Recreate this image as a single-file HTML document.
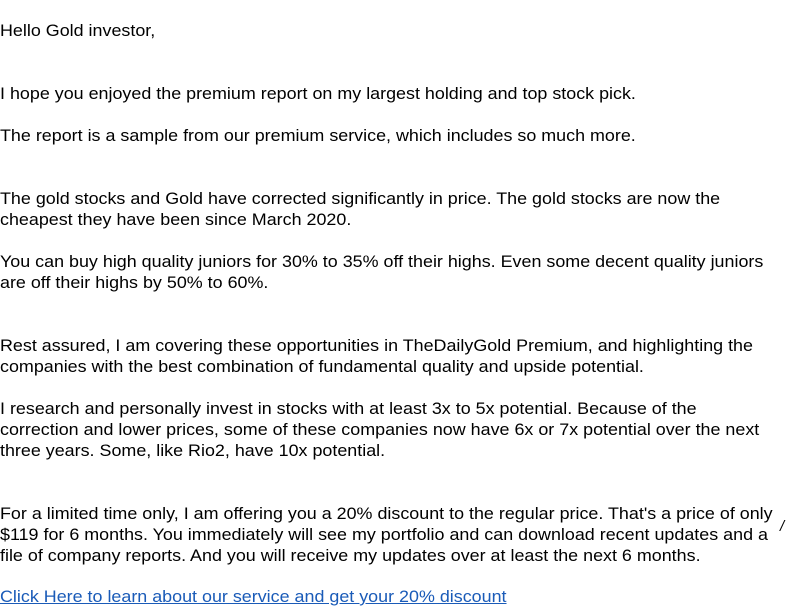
<!DOCTYPE html>
<html><head><meta charset="utf-8"><style>
body{margin:0;width:800px;height:600px;overflow:hidden;background:#fff;font-family:"Liberation Sans",Arial,sans-serif;font-size:16.5px;color:#000;position:relative}
.l{position:absolute;left:0;white-space:nowrap;line-height:21px;transform:scaleX(1.085);transform-origin:0 0}
a{color:#1a5bb8;text-decoration:underline}
</style></head><body>
<div class="l" style="top:21px">Hello Gold investor,</div>
<div class="l" style="top:84px">I hope you enjoyed the premium report on my largest holding and top stock pick.</div>
<div class="l" style="top:126px">The report is a sample from our premium service, which includes so much more.</div>
<div class="l" style="top:189px">The gold stocks and Gold have corrected significantly in price. The gold stocks are now the<br>cheapest they have been since March 2020.</div>
<div class="l" style="top:252px">You can buy high quality juniors for 30% to 35% off their highs. Even some decent quality juniors<br>are off their highs by 50% to 60%.</div>
<div class="l" style="top:336px">Rest assured, I am covering these opportunities in TheDailyGold Premium, and highlighting the<br>companies with the best combination of fundamental quality and upside potential.</div>
<div class="l" style="top:399px">I research and personally invest in stocks with at least 3x to 5x potential. Because of the<br>correction and lower prices, some of these companies now have 6x or 7x potential over the next<br>three years. Some, like Rio2, have 10x potential.</div>
<div class="l" style="top:504px">For a limited time only, I am offering you a 20% discount to the regular price. That's a price of only<br>$119 for 6 months. You immediately will see my portfolio and can download recent updates and a<br>file of company reports. And you will receive my updates over at least the next 6 months.</div>
<div style="position:absolute;top:518px;left:780px;font-size:15px;font-style:italic">/</div>
<div class="l" style="top:587px"><a href="#">Click Here to learn about our service and get your 20% discount</a></div>
</body></html>
